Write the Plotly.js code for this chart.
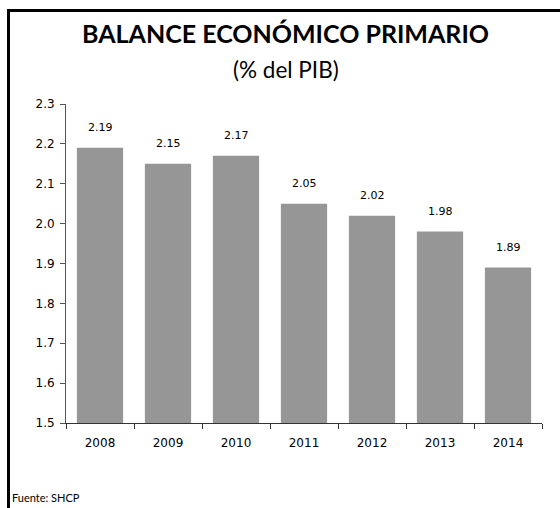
<!DOCTYPE html>
<html>
<head>
<meta charset="utf-8">
<script src="https://cdn.plot.ly/plotly-3.0.1.min.js"></script>
<style>html,body{margin:0;padding:0;background:#fff;}#chart{width:560px;height:508px;}</style>
</head>
<body>
<div id="chart"></div>
<script>
const years = ['2008', '2009', '2010', '2011', '2012', '2013', '2014'];
const values = [2.19, 2.15, 2.17, 2.05, 2.02, 1.98, 1.89];
const valueLabels = ['2.19', '2.15', '2.17', '2.05', '2.02', '1.98', '1.89'];
const titleText = 'BALANCE ECONÓMICO PRIMARIO';
const subtitleText = '(% del PIB)';
const sourceText = 'Fuente: SHCP';

const trace = {
  type: 'bar',
  x: years,
  y: values,
  marker: {color: '#969696'},
  hoverinfo: 'x+y'
};

const pw = 560 - 66 - 18, ph = 508 - 104 - 85;
const px = v => (v - 66) / pw;
const py = v => (508 - 85 - v) / ph;

const annotations = years.map((yr, i) => ({
  x: i, y: values[i], xref: 'x', yref: 'y',
  text: valueLabels[i], showarrow: false,
  yanchor: 'middle', yshift: 20,
  font: {family: 'DejaVu Sans', size: 11, color: '#000'}
}));
annotations.push({
  xref: 'paper', yref: 'paper', x: px(285), y: 1, yshift: 71,
  text: '<b>' + titleText + '</b>', showarrow: false,
  font: {family: 'Lato', size: 25, color: '#000'}, xanchor: 'center', yanchor: 'middle'
});
annotations.push({
  xref: 'paper', yref: 'paper', x: px(286), y: 1, yshift: 35,
  text: subtitleText, showarrow: false,
  font: {family: 'Lato', size: 22.5, color: '#000'}, xanchor: 'center', yanchor: 'middle'
});
annotations.push({
  xref: 'paper', yref: 'paper', x: 0, y: 0, xshift: -56, yshift: -74,
  text: sourceText, showarrow: false,
  font: {family: 'Lato', size: 11, color: '#000'}, xanchor: 'left', yanchor: 'middle'
});

const layout = {
  width: 560, height: 508,
  margin: {l: 66, r: 18, t: 104, b: 85},
  paper_bgcolor: '#fff', plot_bgcolor: '#fff',
  bargap: 0.32,
  showlegend: false,
  xaxis: {
    type: 'category', range: [-0.5, years.length - 0.5], autorange: false,
    showgrid: false, zeroline: false,
    showline: true, linecolor: '#333', linewidth: 1,
    ticks: 'outside', ticklen: 5, tickcolor: '#333', tickson: 'boundaries',
    tickangle: 0, ticklabelstandoff: 9,
    tickfont: {family: 'DejaVu Sans', size: 12, color: '#000'}
  },
  yaxis: {
    range: [1.5, 2.3], autorange: false, dtick: 0.1, tickformat: '.1f',
    showgrid: false, zeroline: false,
    showline: true, linecolor: '#555', linewidth: 1,
    ticks: 'outside', ticklen: 5, tickcolor: '#555', ticklabelstandoff: 3,
    tickfont: {family: 'DejaVu Sans', size: 12, color: '#000'}
  },
  annotations: annotations,
  shapes: [
    {type: 'line', xref: 'paper', yref: 'paper', x0: px(7), x1: px(560), y0: py(10.5), y1: py(10.5), line: {color: '#000', width: 3}},
    {type: 'line', xref: 'paper', yref: 'paper', x0: px(8.5), x1: px(8.5), y0: py(9), y1: py(508), line: {color: '#000', width: 3}}
  ]
};

Plotly.newPlot('chart', [trace], layout, {displayModeBar: false, staticPlot: true});
</script>
</body>
</html>
